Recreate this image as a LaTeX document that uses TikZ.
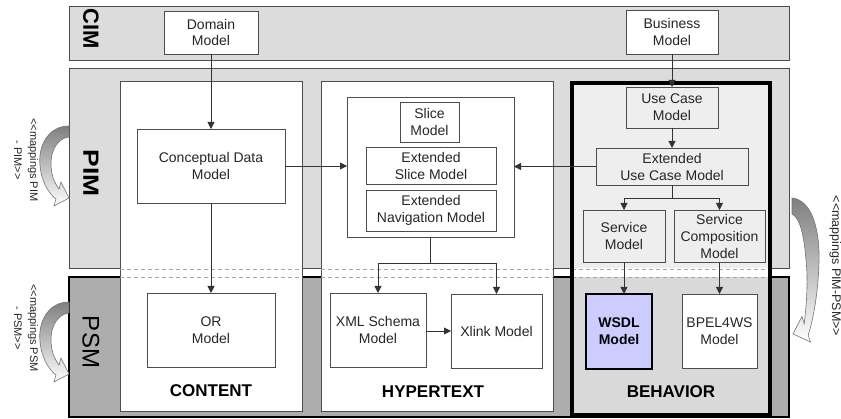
\documentclass[tikz,border=0pt]{standalone}
\usepackage{fontspec}
\setmainfont{Liberation Sans}
\usetikzlibrary{arrows.meta}
\definecolor{bandgray}{HTML}{DCDCDC}
\definecolor{psmgray}{HTML}{ADADAD}
\definecolor{edgegray}{HTML}{4D4D4D}
\definecolor{behup}{HTML}{EEEEEE}
\definecolor{behlow}{HTML}{D9D9D9}
\definecolor{wsdlblue}{HTML}{CCCCFF}
\tikzset{
  box/.style={draw=edgegray, line width=0.8pt, fill=white, inner sep=0pt, outer sep=0pt,
    align=center, text=black!85, font=\fontsize{14}{17}\selectfont},
  gbox/.style={box, fill=behup},
  arr/.style={draw=black!80, line width=0.8pt, -{Triangle[length=7pt,width=7pt]}},
  dline/.style={draw=gray!70, line width=0.7pt, dash pattern=on 4pt off 3pt},
  band/.style={draw=edgegray, line width=0.9pt, fill=bandgray},
  panel/.style={draw=edgegray, line width=0.9pt, fill=white},
  bandlbl/.style={rotate=-90, inner sep=0pt, font=\bfseries\fontsize{22}{22}\selectfont},
  seclbl/.style={inner sep=0pt, font=\bfseries\fontsize{17}{17}\selectfont},
  maplbl/.style={rotate=-90, anchor=base, inner sep=0pt, text=black!85, font=\fontsize{11}{13}\selectfont},
  maparrow/.style={draw=black!55, line width=0.6pt, top color=black!50, bottom color=white}
}
\begin{document}
\begin{tikzpicture}[x=1pt,y=-1pt]
\useasboundingbox (0,0) rectangle (841,419);
% bands
\draw[band] (69,6) rectangle (789,60);
\draw[band] (69,68) rectangle (789,268);
\draw[draw=black, line width=2pt, fill=psmgray] (69,277) rectangle (789,417);
% panels
\draw[panel] (120,81) rectangle (302,411);
\draw[panel] (321,81) rectangle (553,411);
\fill[white] (572,83) rectangle (770,415);
\fill[behup] (572,83) rectangle (770,268);
\fill[behlow] (572,277) rectangle (770,415);
% dashed separators
\foreach \yy in {269,277}{
  \draw[dline] (120,\yy) -- (302,\yy);
  \draw[dline] (321,\yy) -- (553,\yy);
  \draw[dline] (572,\yy) -- (770,\yy);
}
\draw[draw=black, line width=4pt] (572,83) rectangle (770,415);
% band labels
\node[bandlbl] (cimlbl) at (91,29) {CIM};
\node[bandlbl] (pimlbl) at (91,173) {\scalebox{1.2}[1]{PIM}};
\node[bandlbl, font=\fontsize{24}{24}\selectfont] (psmlbl) at (91,342) {PSM};
% nodes
\node[box, minimum width=94pt, minimum height=43pt] (dom) at (211,32.5) {Domain\\Model};
\node[box, minimum width=92pt, minimum height=44pt] (bus) at (672,32) {Business\\Model};
\node[box, minimum width=148pt, minimum height=74pt] (cdm) at (211,166) {Conceptual Data\\Model};
\node[box, minimum width=167pt, minimum height=140pt] (grp) at (430.5,167) {};
\node[box, minimum width=59pt, minimum height=40pt] (slice) at (429.5,122) {Slice\\Model};
\node[box, minimum width=130pt, minimum height=37pt] (esm) at (431,165.5) {Extended\\Slice Model};
\node[box, minimum width=130pt, minimum height=41pt] (enm) at (431,210.5) {Extended\\Navigation Model};
\node[gbox, minimum width=92pt, minimum height=41pt] (uc) at (672,107.5) {Use Case\\Model};
\node[gbox, minimum width=152pt, minimum height=37pt] (euc) at (672,166.5) {Extended\\Use Case Model};
\node[gbox, minimum width=82pt, minimum height=52pt] (sm) at (624,236) {Service\\Model};
\node[gbox, minimum width=91pt, minimum height=52pt] (sc) at (719.5,236) {Service\\Composition\\Model};
\node[box, minimum width=128pt, minimum height=74pt] (orm) at (211,330) {OR\\Model};
\node[box, minimum width=96pt, minimum height=74pt] (xml) at (378,330) {XML Schema\\Model};
\node[box, minimum width=91pt, minimum height=74pt] (xlink) at (496.5,331) {Xlink Model};
\node[box, draw=black, line width=2.5pt, fill=wsdlblue, text=black, minimum width=66pt, minimum height=75pt,
  font=\bfseries\fontsize{14}{17}\selectfont] (wsdl) at (619,331.5) {WSDL\\Model};
\node[box, minimum width=75pt, minimum height=74pt] (bpel) at (719.5,331) {BPEL4WS\\Model};
% section labels
\node[seclbl] (lcontent) at (211,391) {CONTENT};
\node[seclbl] (lhyper) at (433,392) {HYPERTEXT};
\node[seclbl] (lbeh) at (671,392) {BEHAVIOR};
% connectors
\coordinate (b1) at (672,198);
\coordinate (b2) at (430.5,263);
\draw[arr] (dom) -- (cdm);
\draw[arr] (cdm) -- (orm);
\draw[arr] (cdm.east) -- (cdm.east -| grp.west);
\draw[arr] (euc.west) -- (euc.west -| grp.east);
\draw[arr] (bus) -- (uc);
\draw[arr] (uc) -- (euc);
\draw[draw=black!80, line width=0.8pt] (euc.south) -- (b1);
\draw[arr] (b1) -| (sm.north);
\draw[arr] (b1) -| (sc.north);
\draw[arr] (sm.south) -- (sm.south |- wsdl.north);
\draw[arr] (sc.south) -- (sc.south |- bpel.north);
\draw[draw=black!80, line width=0.8pt] (grp.south) -- (b2);
\draw[arr] (b2) -| (xml.north);
\draw[arr] (b2) -| (xlink.north);
\draw[arr] (xml.east |- xlink.west) -- (xlink.west);
% mapping arrows (left PIM)
\path[maparrow] (69,126) .. controls (47,126) and (38,148) .. (40,165)
  .. controls (41,181) and (49,194) .. (56,199) -- (54,206) -- (69,198) -- (61,182) -- (59,189)
  .. controls (54,182) and (51,175) .. (51,163) .. controls (51,150) and (58,138) .. (69,137) -- cycle;
% left PSM
\begin{scope}[yshift=-176pt]
\path[maparrow] (69,126) .. controls (47,126) and (38,148) .. (40,165)
  .. controls (41,181) and (49,194) .. (56,199) -- (54,206) -- (69,198) -- (61,182) -- (59,189)
  .. controls (54,182) and (51,175) .. (51,163) .. controls (51,150) and (58,138) .. (69,137) -- cycle;
\end{scope}
% right PIM-PSM
\path[maparrow] (792,198) .. controls (812,200) and (820,230) .. (819,262)
  .. controls (818,295) and (813,320) .. (808.2,335.1) -- (810.5,342) -- (793,334) -- (801.9,316.5) -- (804.2,323.7)
  .. controls (807,300) and (808,280) .. (806,260) .. controls (804,235) and (800,218) .. (792,214) -- cycle;
% mapping labels
\node[maplbl] (m1a) at (30,160) {<{}<mappings PIM};
\node[maplbl] (m1b) at (14,160) {- PIM>{}>};
\node[maplbl] (m2a) at (30,328) {<{}<mappings PSM};
\node[maplbl] (m2b) at (14,328) {- PSM>{}>};
\node[maplbl, font=\fontsize{12.5}{14}\selectfont] (m3) at (832,266) {<{}<mappings PIM-PSM>{}>};
\end{tikzpicture}
\end{document}
